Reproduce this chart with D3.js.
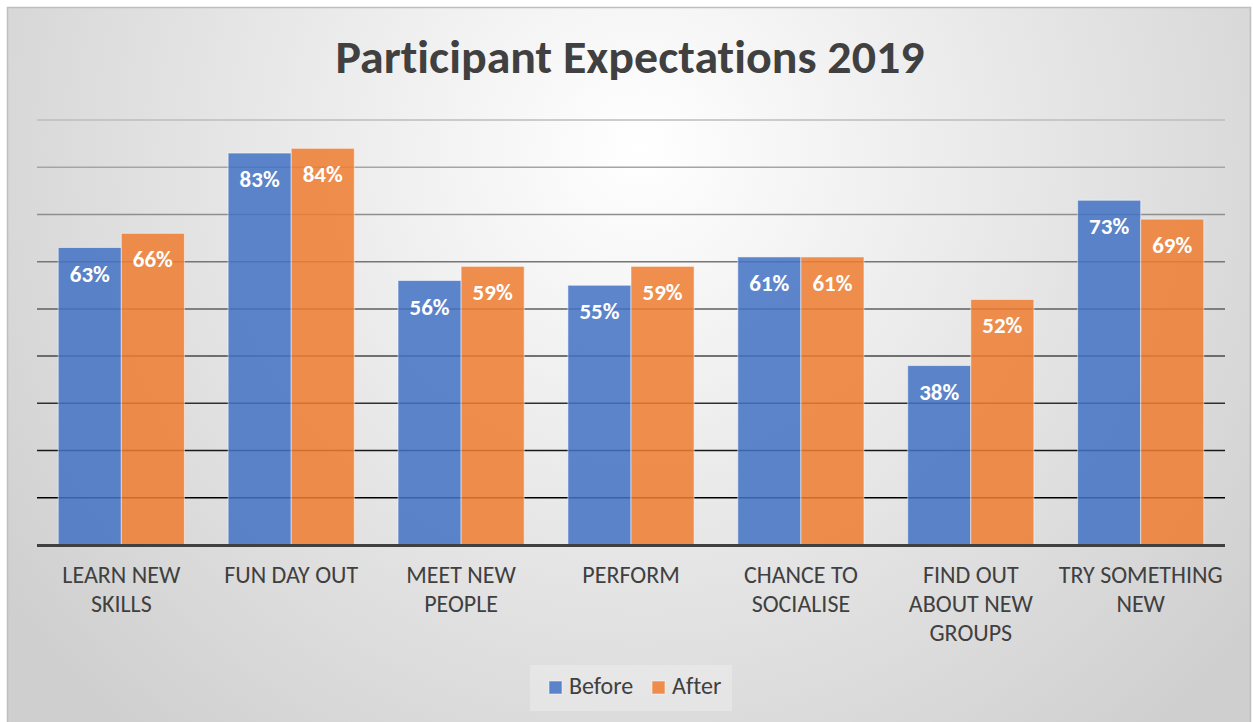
<!DOCTYPE html>
<html>
<head>
<meta charset="utf-8">
<script src="https://cdn.jsdelivr.net/npm/d3@7"></script>
<style>
  body { margin: 0; background: #fff; }
  svg { display: block; }
  text { font-family: Carlito, "Open Sans", sans-serif; font-variant-ligatures: none; }
</style>
</head>
<body>
<svg id="chart" width="1253" height="722"></svg>
<script>
// chart data
const categories = ['LEARN NEW SKILLS', 'FUN DAY OUT', 'MEET NEW PEOPLE', 'PERFORM',
  'CHANCE TO SOCIALISE', 'FIND OUT ABOUT NEW GROUPS', 'TRY SOMETHING NEW'];
const categoryLines = [
  ['LEARN NEW', 'SKILLS'], ['FUN DAY OUT'], ['MEET NEW', 'PEOPLE'], ['PERFORM'],
  ['CHANCE TO', 'SOCIALISE'], ['FIND OUT', 'ABOUT NEW', 'GROUPS'], ['TRY SOMETHING', 'NEW']
];
const seriesNames = ['Before', 'After'];
const before = [0.63, 0.83, 0.56, 0.55, 0.61, 0.38, 0.73];
const after = [0.66, 0.84, 0.59, 0.59, 0.61, 0.52, 0.69];
const gridTicks = [0.1, 0.2, 0.3, 0.4, 0.5, 0.6, 0.7, 0.8, 0.9];
const colors = ['#4472C4', '#ED7D31'];
const title = 'Participant Expectations 2019';

let svg = d3.select('#chart');
let W = 1253, H = 722;

let defs = svg.append('defs');
let bg = defs.append('radialGradient')
  .attr('id', 'bg')
  .attr('gradientUnits', 'userSpaceOnUse')
  .attr('cx', 640).attr('cy', 150).attr('r', 780);
bg.append('stop').attr('offset', '0%').attr('stop-color', '#ffffff');
bg.append('stop').attr('offset', '100%').attr('stop-color', '#cfcfcf');

svg.append('rect')
  .attr('x', 7.5).attr('y', 7.5)
  .attr('width', W - 10).attr('height', H)
  .attr('fill', 'url(#bg)')
  .attr('stroke', '#bfbfbf')
  .attr('stroke-width', 1.5);

svg.append('text')
  .attr('x', 630).attr('y', 73)
  .attr('text-anchor', 'middle')
  .attr('font-size', 46)
  .attr('font-weight', 'bold')
  .attr('fill', '#404040')
  .attr('textLength', 589)
  .attr('lengthAdjust', 'spacingAndGlyphs')
  .text(title);

let plotLeft = 37, plotRight = 1225, plotTop = 120, plotBottom = 545;

let y = d3.scaleLinear().domain([0, 0.9]).range([plotBottom, plotTop]);
let x0 = d3.scaleBand()
  .domain(categories)
  .range([plotLeft, plotRight])
  .paddingInner(0.2575)
  .paddingOuter(0.125);
let x1 = d3.scaleBand()
  .domain(seriesNames)
  .range([0, x0.bandwidth()]);

// gridlines get darker towards the bottom
let gridColor = d3.scaleLinear().domain([0.1, 0.9]).range(['#000000', '#bdbdbd']);
svg.append('g')
  .selectAll('line')
  .data(gridTicks).enter()
  .append('line')
  .attr('x1', plotLeft).attr('x2', plotRight)
  .attr('y1', d => y(d)).attr('y2', d => y(d))
  .attr('stroke', d => gridColor(d))
  .attr('stroke-width', 1.5);

let rows = categories.map((c, i) => ({ cat: c, values: [before[i], after[i]] }));

let groups = svg.append('g')
  .selectAll('g')
  .data(rows).enter()
  .append('g')
  .attr('transform', d => 'translate(' + x0(d.cat) + ',0)');

let bars = groups.selectAll('g')
  .data(d => d.values.map((v, j) => ({ name: seriesNames[j], value: v, color: colors[j] })))
  .enter().append('g');

bars.append('rect')
  .attr('x', d => x1(d.name))
  .attr('width', x1.bandwidth())
  .attr('y', d => y(d.value))
  .attr('height', d => plotBottom - y(d.value))
  .attr('fill', d => d.color)
  .attr('fill-opacity', 0.86)
  .attr('stroke', '#ffffff')
  .attr('stroke-opacity', 0.5)
  .attr('stroke-width', 1);

bars.append('text')
  .attr('x', d => x1(d.name) + x1.bandwidth() / 2)
  .attr('y', d => y(d.value) + 34)
  .attr('text-anchor', 'middle')
  .attr('font-size', 23)
  .attr('font-weight', 'bold')
  .attr('fill', '#ffffff')
  .text(d => Math.round(d.value * 100) + '%');

// baseline axis
svg.append('line')
  .attr('x1', plotLeft).attr('x2', plotRight)
  .attr('y1', plotBottom + 0.5).attr('y2', plotBottom + 0.5)
  .attr('stroke', '#404040')
  .attr('stroke-width', 3);

// category labels
svg.append('g')
  .selectAll('text')
  .data(categories).enter()
  .append('text')
  .attr('text-anchor', 'middle')
  .attr('font-size', 24)
  .attr('fill', '#404040')
  .attr('transform', d => 'translate(' + (x0(d) + x0.bandwidth() / 2) + ',583)')
  .each(function(d, i) {
    d3.select(this).selectAll('tspan')
      .data(categoryLines[i]).enter()
      .append('tspan')
      .attr('x', 0)
      .attr('y', (l, k) => k * 29)
      .text(l => l);
  });

// legend
let legend = svg.append('g');
legend.append('rect')
  .attr('x', 530).attr('y', 665)
  .attr('width', 202).attr('height', 46)
  .attr('fill', '#ffffff')
  .attr('fill-opacity', 0.25);

let legendX = d3.scaleOrdinal().domain(seriesNames).range([549, 652]);
let items = legend.selectAll('g.item')
  .data(seriesNames).enter()
  .append('g')
  .attr('class', 'item')
  .attr('transform', d => 'translate(' + legendX(d) + ',681)');
items.append('rect')
  .attr('width', 13).attr('height', 13)
  .attr('fill', (d, i) => colors[i])
  .attr('fill-opacity', 0.86)
  .attr('stroke', '#ffffff')
  .attr('stroke-opacity', 0.5);
items.append('text')
  .attr('x', 20).attr('y', 13)
  .attr('font-size', 24)
  .attr('fill', '#404040')
  .text(d => d);
</script>
</body>
</html>
